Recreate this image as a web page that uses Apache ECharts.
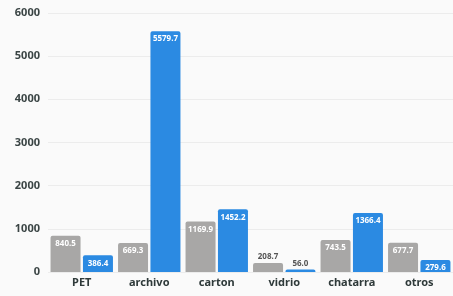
<!DOCTYPE html>
<html lang="es">
<head>
    <meta charset="UTF-8">
    <title>Residuos</title>
    <style type="text/css">
        html, body { margin: 0; padding: 0; background: #fafafa; }
        #main { width: 453px; height: 296px; }
    </style>
    <script src="https://cdn.jsdelivr.net/npm/echarts@6/dist/echarts.min.js"></script>
</head>
<body>
    <div id="main"></div>
    <script type="text/javascript">
        var categories = ['PET', 'archivo', 'carton', 'vidrio', 'chatarra', 'otros'];
        var grayValues = [840.5, 669.3, 1169.9, 208.7, 743.5, 677.7];
        var blueValues = [386.4, 5579.7, 1452.2, 56.0, 1366.4, 279.6];
        var yTicks = [0, 1000, 2000, 3000, 4000, 5000, 6000];

        // very short bars (vidrio) get their label above the bar
        function toData(values) {
            return values.map(function (v) {
                if (v < 250) {
                    return { value: v, label: { position: 'top', color: '#555', distance: 2 } };
                }
                return v;
            });
        }

        var labelStyle = {
            show: true,
            position: 'insideTop',
            distance: 4,
            color: '#fff',
            fontSize: 8,
            fontWeight: 'bold',
            fontFamily: 'Noto Sans',
            formatter: function (p) { return p.value.toFixed(1); }
        };

        var myChart = echarts.init(document.getElementById('main'));
        var option = {
            animation: false,
            grid: { left: 48, top: 13, bottom: 24, width: 408 },
            xAxis: {
                type: 'category',
                data: categories,
                axisLine: { show: false },
                axisTick: { show: false },
                axisLabel: {
                    color: '#2f3a3a', fontSize: 11, fontWeight: 'bold',
                    fontFamily: 'Noto Sans', margin: 5
                }
            },
            yAxis: {
                type: 'value',
                min: yTicks[0],
                max: yTicks[yTicks.length - 1],
                interval: 1000,
                axisLabel: {
                    color: '#3a4444', fontSize: 11, fontWeight: 'bold',
                    fontFamily: 'Noto Sans', margin: 8,
                    formatter: function (v) { return String(v); }
                },
                splitLine: { lineStyle: { color: '#ececec' } }
            },
            series: [
                {
                    type: 'bar',
                    data: toData(grayValues),
                    barWidth: 30,
                    barGap: '8%',
                    itemStyle: { color: '#a8a7a6', borderRadius: [2, 2, 0, 0] },
                    label: labelStyle
                },
                {
                    type: 'bar',
                    data: toData(blueValues),
                    barWidth: 30,
                    itemStyle: { color: '#2b8ae2', borderRadius: [2, 2, 0, 0] },
                    label: labelStyle
                }
            ]
        };
        myChart.setOption(option);
    </script>
</body>
</html>
